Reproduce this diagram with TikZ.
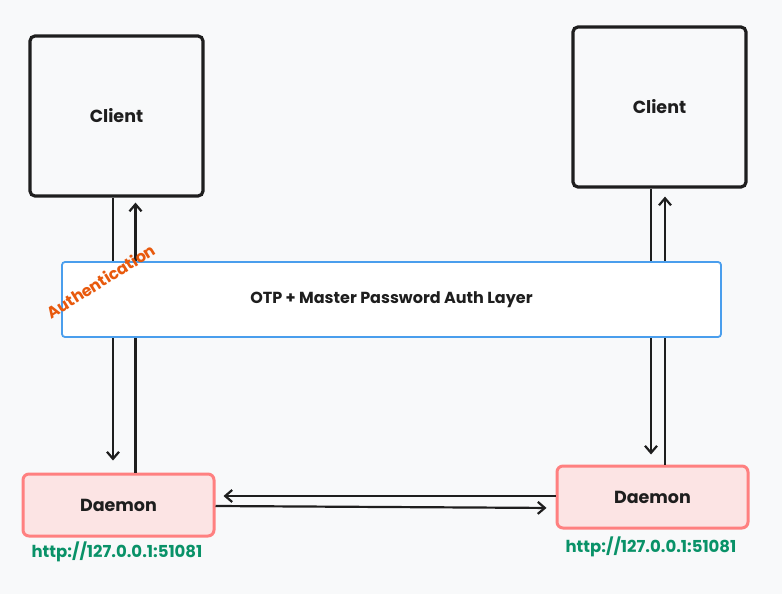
\documentclass[tikz,border=0pt]{standalone}
\usepackage{fontspec}
\setmainfont{Poppins}
\usetikzlibrary{arrows.meta,calc}
\definecolor{bg}{HTML}{F8F9FA}
\definecolor{ink}{HTML}{1E1E1E}
\definecolor{bluestroke}{HTML}{4A9EED}
\definecolor{redstroke}{HTML}{FF8080}
\definecolor{redfill}{HTML}{FCE4E4}
\definecolor{orangetxt}{HTML}{E8590C}
\definecolor{greentxt}{HTML}{099268}
\tikzset{
  clientbox/.style={draw=ink, line width=3.2pt, rounded corners=5pt, fill=bg, font=\fontsize{17.5}{20}\selectfont\bfseries, text=ink},
  daemonbox/.style={draw=redstroke, line width=3pt, rounded corners=6pt, fill=redfill, font=\fontsize{17.5}{20}\selectfont\bfseries, text=ink},
  layerbox/.style={draw=bluestroke, line width=1.8pt, rounded corners=3pt, fill=white, font=\fontsize{16}{19}\selectfont\bfseries, text=ink},
  arr/.style={draw=ink, line width=2.2pt, -{Straight Barb[length=7pt,width=12pt,line width=2.2pt]}},
  urltxt/.style={text=greentxt, font=\fontsize{16.5}{19}\selectfont\bfseries},
}
\begin{document}
\begin{tikzpicture}[x=1pt,y=-1pt]
\fill[bg] (0,0) rectangle (782,594);
\useasboundingbox (0,0) rectangle (782,594);
% nodes
\node[clientbox, minimum width=173pt, minimum height=160pt] (lc) at (116.5,116) {Client};
\node[clientbox, minimum width=173pt, minimum height=160pt] (rc) at (659.5,107) {Client};
\node[daemonbox, minimum width=191pt, minimum height=62pt] (ld) at (118.5,505) {Daemon};
\node[daemonbox, minimum width=191pt, minimum height=62pt] (rd) at (652.5,497) {Daemon};
% vertical arrows (behind the layer)
\draw[arr, shorten >=12pt] ([xshift=-3.5pt]lc.south) -- ([xshift=-3.5pt]lc.south |- ld.north);
\draw[arr, shorten >=5pt] ([xshift=17pt]ld.north) -- ([xshift=17pt]ld.north |- lc.south);
\draw[arr, shorten >=10pt] ([xshift=-8.5pt]rc.south) -- ([xshift=-8.5pt]rc.south |- rd.north);
\draw[arr, shorten >=8pt] ([xshift=12.5pt]rd.north) -- ([xshift=12.5pt]rd.north |- rc.south);
% layer
\node[layerbox, minimum width=659pt, minimum height=75pt] (layer) at (391.5,299.5) {OTP + Master Password Auth Layer};
\node[text=orangetxt, font=\fontsize{16}{18}\selectfont\bfseries, rotate=32] (authlbl) at (101,281) {Authentication};
% horizontal arrows
\draw[arr, shorten >=8pt] ([yshift=1pt]rd.west) -- ([yshift=1pt]rd.west -| ld.east);
\draw[arr, shorten >=9pt] ([yshift=-1pt]ld.east) -- ([yshift=-11pt]rd.west);
% urls
\node[urltxt] (lurl) at (117,552) {http://127.0.0.1:51081};
\node[urltxt] (rurl) at (651,547) {http://127.0.0.1:51081};
\end{tikzpicture}
\end{document}
